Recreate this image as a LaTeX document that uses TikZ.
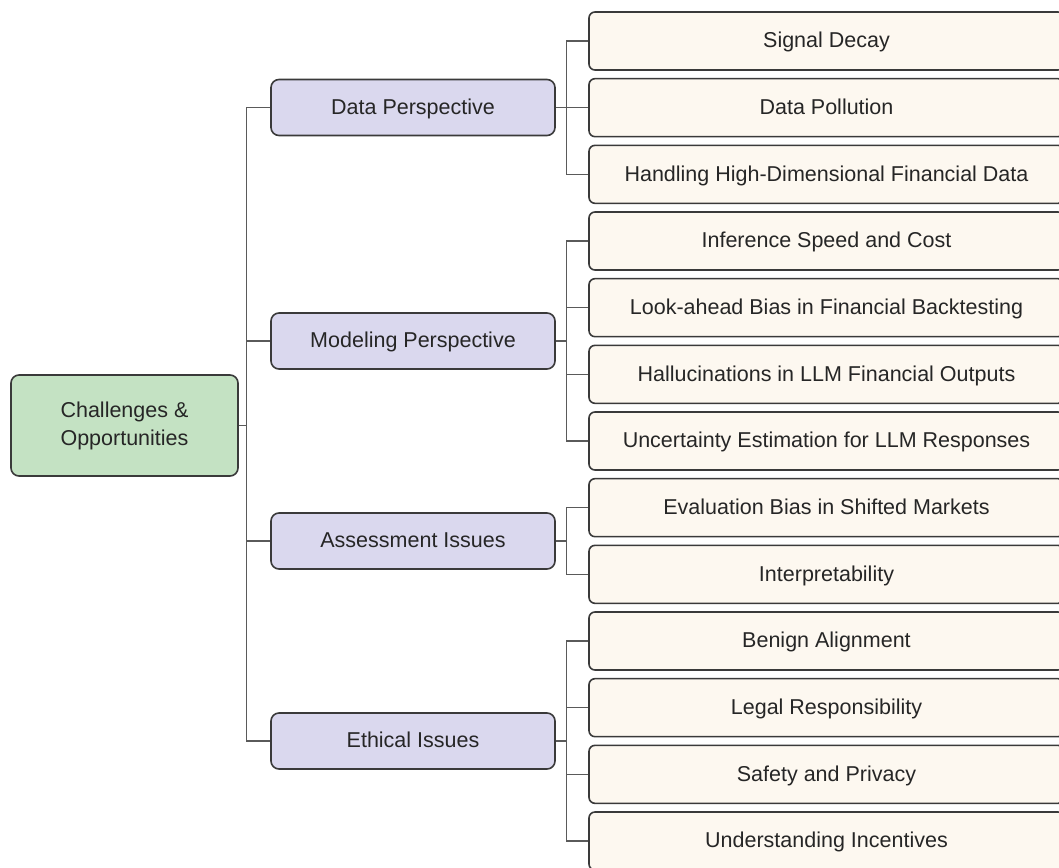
\documentclass[tikz,border=0pt]{standalone}
\usepackage{fontspec}
\setmainfont{Liberation Sans}
\definecolor{rootfill}{HTML}{C4E2C3}
\definecolor{midfill}{HTML}{DAD8EE}
\definecolor{leaffill}{HTML}{FDF8F0}
\definecolor{edgecol}{HTML}{3A3A3A}
\definecolor{linecol}{HTML}{5A5A5A}
\definecolor{txtcol}{HTML}{262626}
\begin{document}
\begin{tikzpicture}[x=1pt,y=-1pt,
  box/.style={draw=edgecol, line width=1.6pt, text=txtcol, align=center,
    font=\fontsize{21.5}{28}\selectfont, inner sep=0pt},
  rootbox/.style={box, fill=rootfill, rounded corners=8pt, minimum width=227pt, minimum height=101pt},
  onebox/.style={box, text height=15.5pt, text depth=2pt},
  midbox/.style={onebox, fill=midfill, rounded corners=8pt, minimum width=284pt, minimum height=56pt},
  leafbox/.style={onebox, fill=leaffill, rounded corners=6pt, minimum width=475pt, minimum height=58pt},
  conn/.style={draw=linecol, line width=1.1pt}]
\useasboundingbox (0,0) rectangle (1059,867);
\fill[white] (0,0) rectangle (1059,867);

\node[rootbox] (root) at (124.5,425.5) {Challenges \&\\Opportunities};

\node[midbox] (m1) at (413,107.5) {Data Perspective};
\node[midbox] (m2) at (413,341) {Modeling Perspective};
\node[midbox] (m3) at (413,541) {Assessment Issues};
\node[midbox] (m4) at (413,741) {Ethical Issues};

\def\lx{826.5}
\node[leafbox] (l1) at (\lx,41) {Signal Decay};
\node[leafbox] (l2) at (\lx,107.67) {Data Pollution};
\node[leafbox] (l3) at (\lx,174.33) {Handling High-Dimensional Financial Data};
\node[leafbox] (l4) at (\lx,241) {Inference Speed and Cost};
\node[leafbox] (l5) at (\lx,307.67) {Look-ahead Bias in Financial Backtesting};
\node[leafbox] (l6) at (\lx,374.33) {Hallucinations in LLM Financial Outputs};
\node[leafbox] (l7) at (\lx,441) {Uncertainty Estimation for LLM Responses};
\node[leafbox] (l8) at (\lx,507.67) {Evaluation Bias in Shifted Markets};
\node[leafbox] (l9) at (\lx,574.33) {Interpretability};
\node[leafbox] (l10) at (\lx,641) {Benign Alignment};
\node[leafbox] (l11) at (\lx,707.67) {Legal Responsibility};
\node[leafbox] (l12) at (\lx,774.33) {Safety and Privacy};
\node[leafbox] (l13) at (\lx,841) {Understanding Incentives};

\foreach \m in {m1,m2,m3,m4}
  \draw[conn] (root.east) -- ++(8,0) |- (\m.west);
\foreach \l in {l1,l2,l3}
  \draw[conn] (m1.east) -- ++(11,0) |- (\l.west);
\foreach \l in {l4,l5,l6,l7}
  \draw[conn] (m2.east) -- ++(11,0) |- (\l.west);
\foreach \l in {l8,l9}
  \draw[conn] (m3.east) -- ++(11,0) |- (\l.west);
\foreach \l in {l10,l11,l12,l13}
  \draw[conn] (m4.east) -- ++(11,0) |- (\l.west);
\end{tikzpicture}
\end{document}
